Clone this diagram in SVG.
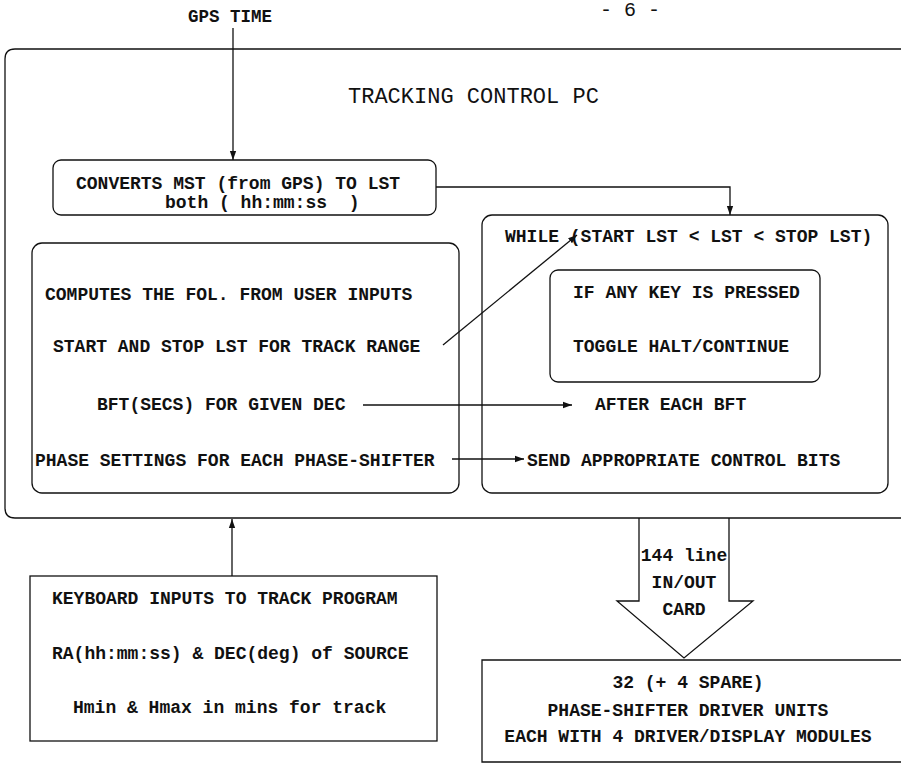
<svg xmlns="http://www.w3.org/2000/svg" width="901" height="769" viewBox="0 0 901 769">
<defs>
<style>
text{font-family:"Liberation Mono","DejaVu Sans Mono",monospace;font-weight:bold;font-size:18px;fill:#111}
.box{fill:none;stroke:#111;stroke-width:1.3}
.ln{fill:none;stroke:#111;stroke-width:1.3}
.mid{text-anchor:middle}
</style>
<marker id="ah" viewBox="0 0 10 10" refX="10" refY="5" markerWidth="9" markerHeight="9" markerUnits="userSpaceOnUse" orient="auto">
<path d="M0,1.5 L10,5 L0,8.5 Z" fill="#111"/>
</marker>
</defs>
<rect width="901" height="769" fill="#fff"/>
<text x="600" y="16" style="font-size:20px;font-weight:normal">- 6 -</text>
<text x="188" y="22" style="font-size:17.5px">GPS TIME</text>

<g id="pc">
<path class="box" d="M905 49 H15 Q5 49 5 59 V508 Q5 518 15 518 H905"/>
<text x="348" y="103" style="font-size:22px;font-weight:normal">TRACKING CONTROL PC</text>
</g>

<g id="convert">
<rect class="box" x="53" y="160" width="383" height="55" rx="8"/>
<text x="76" y="189">CONVERTS MST (from GPS) TO LST</text>
<text x="165" y="208" xml:space="preserve">both ( hh:mm:ss  )</text>
</g>

<g id="compute">
<rect class="box" x="32" y="243" width="427" height="250" rx="10"/>
<text x="45" y="300">COMPUTES THE FOL. FROM USER INPUTS</text>
<text x="53" y="352">START AND STOP LST FOR TRACK RANGE</text>
<text x="97" y="410">BFT(SECS) FOR GIVEN DEC</text>
<text x="35" y="466">PHASE SETTINGS FOR EACH PHASE-SHIFTER</text>
</g>

<g id="while">
<rect class="box" x="482" y="215" width="406" height="278" rx="10"/>
<text x="505" y="242">WHILE (START LST &lt; LST &lt; STOP LST)</text>
<text x="595" y="410">AFTER EACH BFT</text>
<text x="527" y="466">SEND APPROPRIATE CONTROL BITS</text>
</g>

<g id="keypress">
<rect class="box" x="550" y="270" width="270" height="112" rx="8"/>
<text x="573" y="298">IF ANY KEY IS PRESSED</text>
<text x="573" y="352">TOGGLE HALT/CONTINUE</text>
</g>

<g id="keyboard">
<rect class="box" x="30" y="576" width="407" height="165"/>
<text x="52" y="604">KEYBOARD INPUTS TO TRACK PROGRAM</text>
<text x="52" y="659">RA(hh:mm:ss) &amp; DEC(deg) of SOURCE</text>
<text x="73" y="713">Hmin &amp; Hmax in mins for track</text>
</g>

<g id="drivers">
<path class="box" d="M905 660 H482 V762 H905"/>
<text class="mid" x="688" y="688">32 (+ 4 SPARE)</text>
<text class="mid" x="688" y="716">PHASE-SHIFTER DRIVER UNITS</text>
<text class="mid" x="688" y="742">EACH WITH 4 DRIVER/DISPLAY MODULES</text>
</g>

<g id="connectors">
<path class="ln" d="M233 28 V160" marker-end="url(#ah)"/>
<path class="ln" d="M436 187 H730 V215" marker-end="url(#ah)"/>
<path class="ln" d="M443 345 L577 235" marker-end="url(#ah)"/>
<path class="ln" d="M363 405 H572" marker-end="url(#ah)"/>
<path class="ln" d="M452 459 H524" marker-end="url(#ah)"/>
<path class="ln" d="M232 576 V519" marker-end="url(#ah)"/>
<path class="ln" d="M639 518 V601 H617 L684 658 L753 601 H729 V518"/>
<text class="mid" x="684" y="561">144 line</text>
<text class="mid" x="684" y="588">IN/OUT</text>
<text class="mid" x="684" y="615">CARD</text>
</g>
</svg>
